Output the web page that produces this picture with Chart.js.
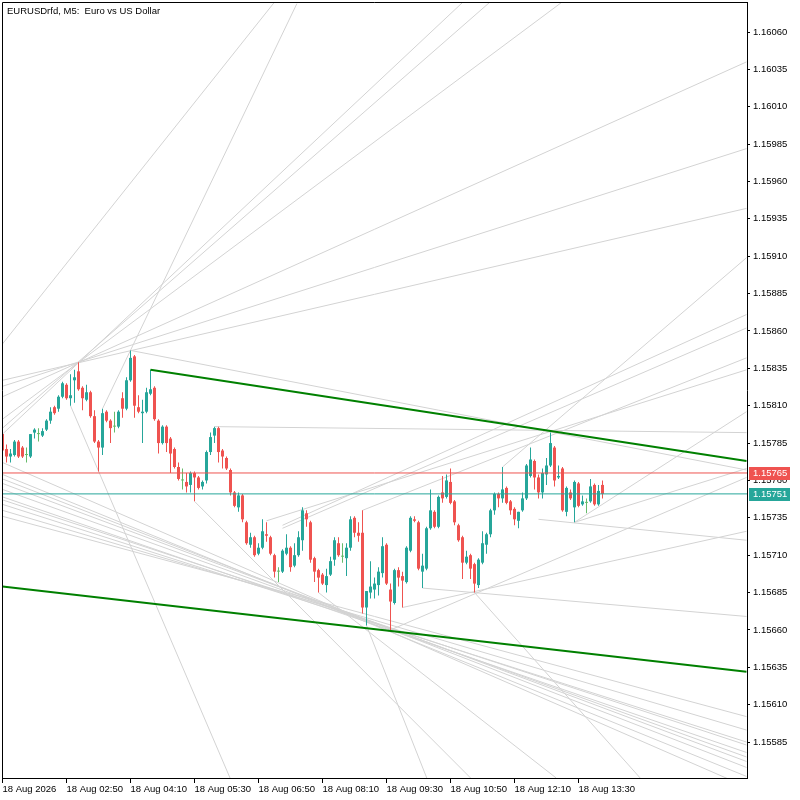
<!DOCTYPE html>
<html>
<head>
<meta charset="utf-8">
<title>EURUSDrfd, M5</title>
<script src="https://cdn.jsdelivr.net/npm/chart.js@4.4.1/dist/chart.umd.min.js"></script>
<style>
  html, body { margin: 0; padding: 0; background: #fff; }
  #wrap { width: 800px; height: 800px; position: relative; }
</style>
</head>
<body>
<div id="wrap"><canvas id="chart"></canvas></div>
<script>
// bar index 0 = 18 Aug 01:30, one bar every 5 minutes
const open = [
  1.15791, 1.15781, 1.15776, 1.15777, 1.15786, 1.15782, 1.15777, 1.15776, 1.15792, 1.15791,
  1.15790, 1.15794, 1.15800, 1.15809, 1.15808, 1.15816, 1.15824, 1.15815, 1.15827, 1.15833,
  1.15822, 1.15814, 1.15819, 1.15803, 1.15786, 1.15782, 1.15806, 1.15800, 1.15796, 1.15796,
  1.15815, 1.15808, 1.15827, 1.15843, 1.15809, 1.15805, 1.15806, 1.15818, 1.15822, 1.15800,
  1.15785, 1.15796, 1.15788, 1.15781, 1.15769, 1.15760, 1.15759, 1.15757, 1.15765, 1.15762,
  1.15756, 1.15760, 1.15779, 1.15790, 1.15795, 1.15780, 1.15775, 1.15767, 1.15752, 1.15742,
  1.15750, 1.15732, 1.15717, 1.15722, 1.15711, 1.15715, 1.15724, 1.15722, 1.15710, 1.15699,
  1.15699, 1.15711, 1.15715, 1.15703, 1.15710, 1.15720, 1.15738, 1.15732, 1.15708, 1.15700,
  1.15697, 1.15690, 1.15697, 1.15707, 1.15718, 1.15709, 1.15708, 1.15715, 1.15735, 1.15725,
  1.15725, 1.15675, 1.15685, 1.15687, 1.15690, 1.15698, 1.15717, 1.15687, 1.15678, 1.15700,
  1.15696, 1.15692, 1.15713, 1.15734, 1.15732, 1.15699, 1.15701, 1.15728, 1.15739, 1.15729,
  1.15752, 1.15749, 1.15759, 1.15746, 1.15730, 1.15722, 1.15705, 1.15710, 1.15704, 1.15690,
  1.15705, 1.15717, 1.15724, 1.15740, 1.15751, 1.15748, 1.15755, 1.15746, 1.15741, 1.15733,
  1.15740, 1.15748, 1.15763, 1.15773, 1.15762, 1.15752, 1.15764, 1.15770, 1.15782, 1.15762,
  1.15768, 1.15739, 1.15752, 1.15742, 1.15758, 1.15744, 1.15745, 1.15746, 1.15757, 1.15744,
  1.15757
];
const high = [
  1.15792, 1.15784, 1.15781, 1.15787, 1.15787, 1.15783, 1.15782, 1.15791, 1.15795, 1.15795,
  1.15795, 1.15801, 1.15809, 1.15810, 1.15817, 1.15826, 1.15825, 1.15831, 1.15834, 1.15839,
  1.15823, 1.15824, 1.15820, 1.15807, 1.15787, 1.15808, 1.15807, 1.15801, 1.15806, 1.15807,
  1.15819, 1.15829, 1.15847, 1.15844, 1.15817, 1.15814, 1.15822, 1.15834, 1.15823, 1.15801,
  1.15797, 1.15797, 1.15789, 1.15782, 1.15772, 1.15768, 1.15765, 1.15766, 1.15766, 1.15763,
  1.15760, 1.15780, 1.15792, 1.15796, 1.15796, 1.15781, 1.15776, 1.15768, 1.15753, 1.15752,
  1.15751, 1.15733, 1.15725, 1.15723, 1.15718, 1.15734, 1.15732, 1.15723, 1.15711, 1.15702,
  1.15714, 1.15724, 1.15716, 1.15718, 1.15726, 1.15742, 1.15740, 1.15733, 1.15709, 1.15701,
  1.15698, 1.15701, 1.15709, 1.15722, 1.15722, 1.15718, 1.15718, 1.15736, 1.15736, 1.15732,
  1.15740, 1.15686, 1.15706, 1.15695, 1.15702, 1.15722, 1.15718, 1.15691, 1.15701, 1.15702,
  1.15699, 1.15716, 1.15736, 1.15736, 1.15733, 1.15711, 1.15729, 1.15754, 1.15740, 1.15750,
  1.15763, 1.15764, 1.15768, 1.15747, 1.15731, 1.15723, 1.15713, 1.15711, 1.15705, 1.15708,
  1.15726, 1.15725, 1.15741, 1.15752, 1.15752, 1.15769, 1.15756, 1.15747, 1.15742, 1.15739,
  1.15752, 1.15771, 1.15782, 1.15774, 1.15764, 1.15768, 1.15775, 1.15792, 1.15783, 1.15770,
  1.15769, 1.15756, 1.15754, 1.15760, 1.15759, 1.15750, 1.15748, 1.15761, 1.15758, 1.15757,
  1.15760
];
const low = [
  1.15779, 1.15772, 1.15772, 1.15776, 1.15775, 1.15775, 1.15772, 1.15775, 1.15788, 1.15786,
  1.15789, 1.15793, 1.15798, 1.15804, 1.15806, 1.15815, 1.15814, 1.15810, 1.15812, 1.15820,
  1.15807, 1.15813, 1.15802, 1.15785, 1.15766, 1.15777, 1.15799, 1.15785, 1.15792, 1.15795,
  1.15802, 1.15807, 1.15826, 1.15802, 1.15805, 1.15785, 1.15805, 1.15817, 1.15800, 1.15778,
  1.15784, 1.15779, 1.15765, 1.15768, 1.15760, 1.15754, 1.15752, 1.15752, 1.15746, 1.15754,
  1.15754, 1.15758, 1.15777, 1.15785, 1.15772, 1.15768, 1.15767, 1.15750, 1.15742, 1.15739,
  1.15732, 1.15717, 1.15715, 1.15709, 1.15710, 1.15714, 1.15719, 1.15710, 1.15695, 1.15692,
  1.15698, 1.15710, 1.15699, 1.15702, 1.15709, 1.15713, 1.15729, 1.15705, 1.15692, 1.15685,
  1.15690, 1.15685, 1.15696, 1.15703, 1.15709, 1.15705, 1.15696, 1.15713, 1.15722, 1.15719,
  1.15671, 1.15663, 1.15681, 1.15681, 1.15683, 1.15695, 1.15690, 1.15660, 1.15677, 1.15689,
  1.15675, 1.15691, 1.15712, 1.15732, 1.15700, 1.15688, 1.15700, 1.15727, 1.15728, 1.15728,
  1.15745, 1.15748, 1.15744, 1.15730, 1.15719, 1.15694, 1.15704, 1.15694, 1.15685, 1.15688,
  1.15704, 1.15711, 1.15722, 1.15737, 1.15742, 1.15745, 1.15744, 1.15737, 1.15730, 1.15728,
  1.15739, 1.15747, 1.15762, 1.15754, 1.15748, 1.15748, 1.15757, 1.15769, 1.15756, 1.15761,
  1.15739, 1.15736, 1.15747, 1.15732, 1.15742, 1.15743, 1.15738, 1.15745, 1.15743, 1.15743,
  1.15748
];
const close = [
  1.15780, 1.15776, 1.15778, 1.15786, 1.15776, 1.15776, 1.15777, 1.15791, 1.15794, 1.15791,
  1.15793, 1.15800, 1.15806, 1.15805, 1.15816, 1.15825, 1.15815, 1.15817, 1.15829, 1.15821,
  1.15815, 1.15819, 1.15803, 1.15786, 1.15782, 1.15805, 1.15800, 1.15795, 1.15796, 1.15806,
  1.15808, 1.15827, 1.15842, 1.15810, 1.15806, 1.15806, 1.15819, 1.15821, 1.15801, 1.15785,
  1.15796, 1.15785, 1.15778, 1.15769, 1.15761, 1.15760, 1.15756, 1.15765, 1.15762, 1.15755,
  1.15759, 1.15779, 1.15789, 1.15795, 1.15779, 1.15776, 1.15768, 1.15752, 1.15743, 1.15750,
  1.15734, 1.15718, 1.15722, 1.15710, 1.15715, 1.15726, 1.15723, 1.15711, 1.15699, 1.15699,
  1.15713, 1.15715, 1.15702, 1.15710, 1.15722, 1.15740, 1.15734, 1.15707, 1.15699, 1.15695,
  1.15691, 1.15696, 1.15706, 1.15720, 1.15710, 1.15709, 1.15715, 1.15734, 1.15725, 1.15723,
  1.15675, 1.15686, 1.15689, 1.15691, 1.15699, 1.15716, 1.15691, 1.15679, 1.15700, 1.15695,
  1.15693, 1.15715, 1.15735, 1.15733, 1.15701, 1.15703, 1.15728, 1.15740, 1.15729, 1.15749,
  1.15748, 1.15760, 1.15745, 1.15732, 1.15720, 1.15705, 1.15709, 1.15701, 1.15691, 1.15707,
  1.15718, 1.15724, 1.15740, 1.15751, 1.15748, 1.15754, 1.15745, 1.15740, 1.15734, 1.15739,
  1.15748, 1.15770, 1.15774, 1.15762, 1.15752, 1.15765, 1.15770, 1.15785, 1.15760, 1.15763,
  1.15740, 1.15755, 1.15748, 1.15759, 1.15743, 1.15746, 1.15745, 1.15756, 1.15744, 1.15753,
  1.15751
];

// time axis: tick positions (bar index) and their labels
const xTickIndex = [0, 16, 32, 48, 64, 80, 96, 112, 128, 144];
const xTickLabels = ["18 Aug 2026", "18 Aug 02:50", "18 Aug 04:10", "18 Aug 05:30", "18 Aug 06:50",
  "18 Aug 08:10", "18 Aug 09:30", "18 Aug 10:50", "18 Aug 12:10", "18 Aug 13:30"];
const yTicks = [1.15585, 1.15610, 1.15635, 1.15660, 1.15685, 1.15710, 1.15735, 1.15760, 1.15785, 1.15810,
  1.15835, 1.15860, 1.15885, 1.15910, 1.15935, 1.15960, 1.15985, 1.16010, 1.16035, 1.16060];

const askPrice = 1.15765;
const bidPrice = 1.15751;

// objects: [barFrom, priceFrom, barTo, priceTo]
const channelUpper = [37, 1.15834, 186, 1.15773];
const channelLower = [0, 1.15689, 186, 1.15632];

// fan through the 03:05 high
const highFan = [
  [0, 1.15791, 186, 1.16258],
  [0, 1.15795, 186, 1.16230],
  [0, 1.15801, 186, 1.16172],
  [0, 1.15816, 186, 1.16040],
  [0, 1.15823, 186, 1.15982],
  [0, 1.15827, 186, 1.15942]
];
// fan through the 09:05 low
const lowFanLeft = [1.15772, 1.15764, 1.15761, 1.15758, 1.15754, 1.15749, 1.15747, 1.15744, 1.15740, 1.15736];
const lowFanRight = [1.15555, 1.15562, 1.15568, 1.15572, 1.15575, 1.15578, 1.15583, 1.15585, 1.15593, 1.15602];

const otherLines = [
  [-1, 1.15848, 68, 1.16080],
  [25, 1.15808, 73.6, 1.16079],
  [32, 1.15847, 186, 1.15767],
  [53, 1.15796, 186, 1.15792],
  [17, 1.15810, 58, 1.15554],
  [91, 1.15663, 106.5, 1.15558],
  [48, 1.15746, 117, 1.15561],
  [79, 1.15685, 138.4, 1.15561],
  [118, 1.15685, 159.4, 1.15561],
  [66, 1.15733, 186, 1.15834],
  [90, 1.15740, 186, 1.15842],
  [125, 1.15769, 186, 1.15909],
  [70, 1.15730, 186, 1.15871],
  [70, 1.15728, 186, 1.15862],
  [143, 1.15732, 186, 1.15806],
  [143, 1.15732, 186, 1.15768],
  [100, 1.15675, 186, 1.15726],
  [105, 1.15688, 186, 1.15669],
  [134, 1.15734, 186, 1.15720],
  [97, 1.15660, 186, 1.15762]
];

const UP = "#26a69a", DOWN = "#ef5350", FLAT = "#66bb6a";
const GRAY = "#d3d3d3", GREEN = "#008000";
const X_MIN = -0.125, X_MAX = 186.125;
const FONT = { family: "Liberation Sans", size: 9.5 };

const candleColors = open.map((o, i) => close[i] > o ? UP : (close[i] < o ? DOWN : FLAT));

function segment(s, color, width) {
  return {
    type: "line",
    data: [{ x: s[0], y: s[1] }, { x: s[2], y: s[3] }],
    borderColor: color,
    borderWidth: width,
    pointRadius: 0,
    tension: 0
  };
}

const grayLines = [];
highFan.forEach(s => grayLines.push(segment(s, GRAY, 1)));
lowFanLeft.forEach((p, i) => grayLines.push(segment([0, p, 186, lowFanRight[i]], GRAY, 1)));
otherLines.forEach(s => grayLines.push(segment(s, GRAY, 1)));

const datasets = [
  segment([X_MIN, askPrice, X_MAX, askPrice], DOWN, 1),
  segment([X_MIN, bidPrice, X_MAX, bidPrice], UP, 1),
  segment(channelUpper, GREEN, 2),
  segment(channelLower, GREEN, 2),
  {
    type: "bar",
    data: open.map((o, i) => ({ x: i, y: [o, close[i]] })),
    backgroundColor: candleColors,
    barThickness: 3,
    minBarLength: 1,
    grouped: false,
    inflateAmount: 0,
    borderWidth: 0
  },
  {
    type: "bar",
    data: low.map((l, i) => ({ x: i, y: [l, high[i]] })),
    backgroundColor: candleColors,
    barThickness: 1,
    grouped: false,
    inflateAmount: 0,
    borderWidth: 0
  }
].concat(grayLines);

const overlay = {
  id: "overlay",
  afterDraw(chart) {
    const ctx = chart.ctx;
    const area = chart.chartArea;
    const y = chart.scales.y;
    ctx.save();
    // frame
    ctx.strokeStyle = "#000";
    ctx.lineWidth = 1;
    ctx.beginPath();
    ctx.moveTo(area.left + 0.5, area.bottom);
    ctx.lineTo(area.left + 0.5, area.top + 0.5);
    ctx.lineTo(area.right, area.top + 0.5);
    ctx.stroke();
    // title
    ctx.fillStyle = "#000";
    ctx.font = "9.5px 'Liberation Sans'";
    ctx.textAlign = "left";
    ctx.textBaseline = "alphabetic";
    ctx.fillText("EURUSDrfd, M5:  Euro vs US Dollar", 7, 13.5);
    // ask / bid labels
    [[askPrice, DOWN], [bidPrice, UP]].forEach(([p, c]) => {
      const py = Math.round(y.getPixelForValue(p));
      ctx.fillStyle = c;
      ctx.fillRect(area.right + 2, py - 6, 41, 13);
      ctx.fillStyle = "#fff";
      ctx.textBaseline = "middle";
      ctx.fillText(p.toFixed(5), area.right + 6, py + 0.5);
    });
    ctx.restore();
  }
};

new Chart(document.getElementById("chart"), {
  type: "bar",
  data: { datasets: datasets },
  options: {
    responsive: true,
    maintainAspectRatio: false,
    animation: false,
    layout: { padding: { left: 2, top: 2, right: 0, bottom: 0 } },
    plugins: { legend: { display: false }, tooltip: { enabled: false } },
    scales: {
      x: {
        type: "linear",
        position: "bottom",
        min: X_MIN,
        max: X_MAX,
        offset: false,
        afterBuildTicks: scale => { scale.ticks = xTickIndex.map(v => ({ value: v })); },
        afterFit: scale => {
          scale.height = 22;
          scale.paddingLeft = 0;
          scale.paddingRight = 0;
        },
        grid: { drawOnChartArea: false, offset: false, tickLength: 5, color: "#000" },
        border: { display: true, color: "#000" },
        ticks: {
          autoSkip: false,
          maxRotation: 0,
          align: "start",
          padding: 1,
          color: "#000",
          font: FONT,
          callback: v => xTickLabels[xTickIndex.indexOf(v)]
        }
      },
      y: {
        type: "linear",
        position: "right",
        min: 1.1556094,
        max: 1.1608007,
        afterBuildTicks: scale => { scale.ticks = yTicks.map(v => ({ value: v })); },
        afterFit: scale => {
          scale.width = 53;
          scale.paddingTop = 0;
          scale.paddingBottom = 0;
        },
        grid: { drawOnChartArea: false, tickLength: 3, color: "#000" },
        border: { display: true, color: "#000" },
        ticks: {
          autoSkip: false,
          padding: 3,
          color: "#000",
          font: FONT,
          callback: v => v.toFixed(5)
        }
      }
    }
  },
  plugins: [overlay]
});
</script>
</body>
</html>
